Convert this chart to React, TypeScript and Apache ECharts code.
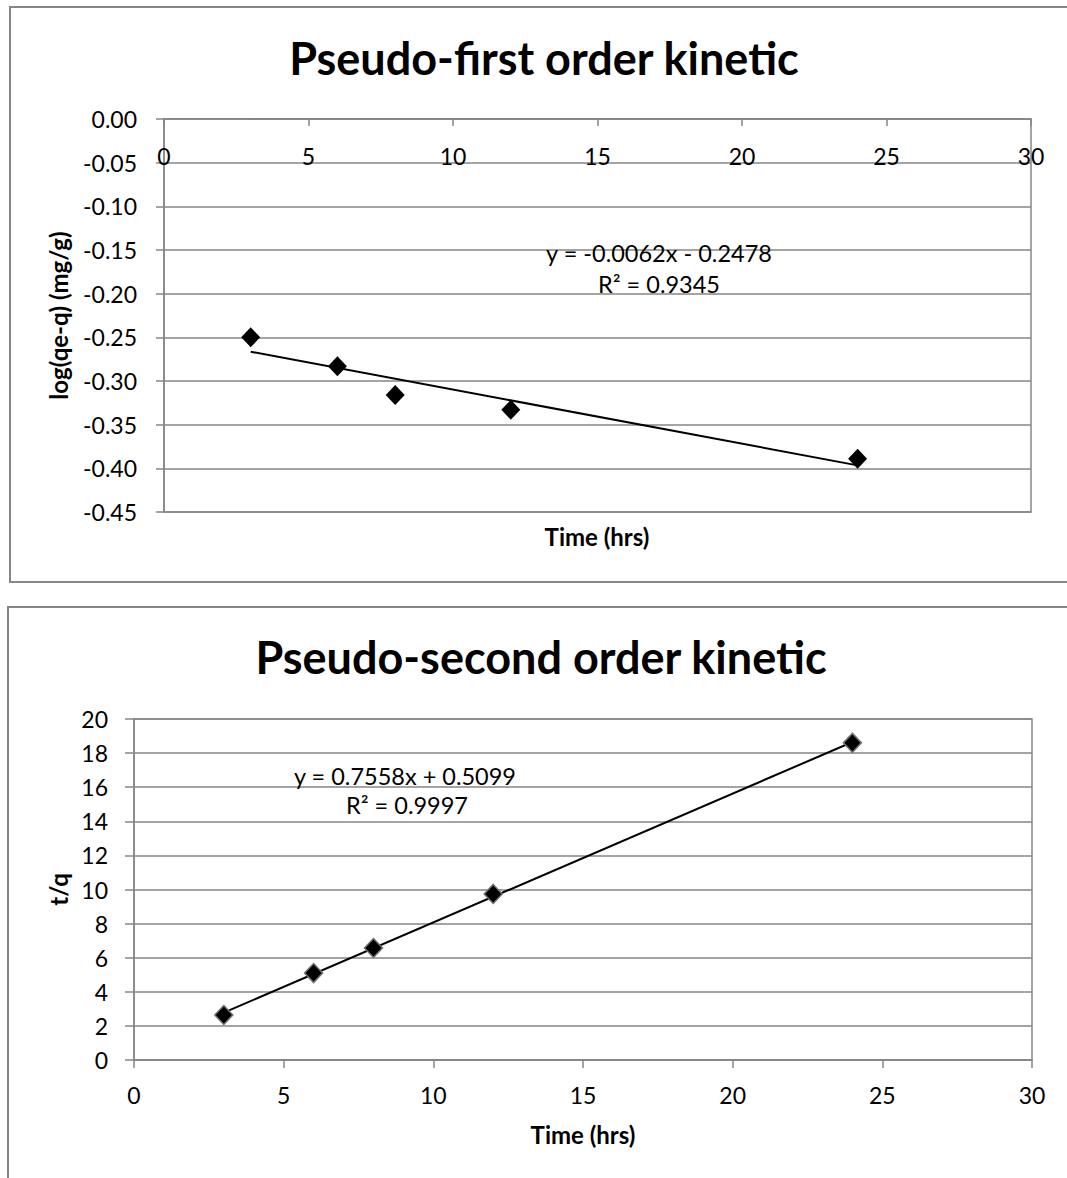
import React, { useEffect, useRef } from "react";
import * as echarts from "echarts";

// ---- data ----
const timeHrs = [3, 6, 8, 12, 24];
const pfoLogQ = [-0.25, -0.283, -0.316, -0.333, -0.389];
const psoTq = [2.64, 5.1, 6.57, 9.74, 18.6];
const pfoTrend = [-0.0062, -0.2478]; // slope, intercept
const psoTrend = [0.7558, 0.5099];
const trendRange = [3, 24];
const pfoTitle = "Pseudo-first order kinetic";
const psoTitle = "Pseudo-second order kinetic";
const pfoEq = ["y = -0.0062x - 0.2478", "R² = 0.9345"];
const psoEq = ["y = 0.7558x + 0.5099", "R² = 0.9997"];

const FONT = "Lato, 'Open Sans', sans-serif";
const GRID = "#868686";

function trend(coef: number[]) {
  return trendRange.map((x) => [x, coef[0] * x + coef[1]]);
}

export default function App() {
  const ref = useRef<HTMLDivElement>(null);
  useEffect(() => {
    document.body.style.margin = "0";
    const chart = echarts.init(ref.current!, undefined, { renderer: "svg" });
    const txt = (x: number, y: number, text: string, size: number, bold = false) => ({
      type: "text",
      x,
      y,
      style: {
        text,
        fill: "#000",
        font: `${bold ? "bold " : ""}${size}px ${FONT}`,
        textAlign: "center",
        textVerticalAlign: "middle",
      },
      z: 50,
    });
    const option: any = {
      animation: false,
      backgroundColor: "#fff",
      textStyle: { fontFamily: FONT, color: "#000" },
      grid: [
        { left: 164, top: 119, width: 867, height: 393, show: true, borderColor: GRID, borderWidth: 1.5, backgroundColor: "transparent" },
        { left: 134, top: 719, width: 898, height: 341, show: true, borderColor: GRID, borderWidth: 1.5, backgroundColor: "transparent" },
      ],
      xAxis: [
        {
          gridIndex: 0, type: "value", min: 0, max: 30, interval: 5, position: "top",
          axisLine: { show: true, onZero: false, lineStyle: { color: GRID, width: 1.5 } },
          axisTick: { show: true, inside: true, length: 7, lineStyle: { color: GRID, width: 1.5 } },
          axisLabel: { inside: true, color: "#000", fontSize: 23, margin: 25, fontFamily: FONT },
          splitLine: { show: false },
        },
        {
          gridIndex: 1, type: "value", min: 0, max: 30, interval: 5,
          name: "Time (hrs)", nameLocation: "middle", nameGap: 62,
          nameTextStyle: { fontWeight: "bold", fontSize: 24, color: "#000", fontFamily: FONT },
          axisLine: { show: true, onZero: false, lineStyle: { color: GRID, width: 1.5 } },
          axisTick: { show: true, length: 8, lineStyle: { color: GRID, width: 1.5 } },
          axisLabel: { color: "#000", fontSize: 23, margin: 23, fontFamily: FONT },
          splitLine: { show: false },
        },
      ],
      yAxis: [
        {
          gridIndex: 0, type: "value", min: -0.45, max: 0, interval: 0.05,
          name: "log(qe-q) (mg/g)", nameLocation: "middle", nameGap: 94, nameRotate: 90,
          nameTextStyle: { fontWeight: "bold", fontSize: 24, color: "#000", fontFamily: FONT },
          axisLine: { show: true, lineStyle: { color: GRID, width: 1.5 } },
          axisTick: { show: true, length: 8, lineStyle: { color: GRID, width: 1.5 } },
          axisLabel: { color: "#000", fontSize: 23, margin: 27, fontFamily: FONT, formatter: (v: number) => v.toFixed(2) },
          splitLine: { show: true, lineStyle: { color: GRID, width: 1.5 } },
        },
        {
          gridIndex: 1, type: "value", min: 0, max: 20, interval: 2,
          name: "t/q", nameLocation: "middle", nameGap: 64, nameRotate: 90,
          nameTextStyle: { fontWeight: "bold", fontSize: 24, color: "#000", fontFamily: FONT },
          axisLine: { show: true, lineStyle: { color: GRID, width: 1.5 } },
          axisTick: { show: true, length: 9, lineStyle: { color: GRID, width: 1.5 } },
          axisLabel: { color: "#000", fontSize: 23, margin: 26, fontFamily: FONT },
          splitLine: { show: true, lineStyle: { color: GRID, width: 1.5 } },
        },
      ],
      series: [
        {
          type: "line", xAxisIndex: 0, yAxisIndex: 0, data: trend(pfoTrend),
          showSymbol: false, symbol: "none", lineStyle: { color: "#000", width: 2 }, z: 3,
        },
        {
          type: "scatter", xAxisIndex: 0, yAxisIndex: 0,
          data: timeHrs.map((x, i) => [x, pfoLogQ[i]]),
          symbol: "diamond", symbolSize: [19, 20], itemStyle: { color: "#000", opacity: 1 }, z: 4,
        },
        {
          type: "line", xAxisIndex: 1, yAxisIndex: 1, data: trend(psoTrend),
          showSymbol: false, symbol: "none", lineStyle: { color: "#000", width: 2 }, z: 3,
        },
        {
          type: "scatter", xAxisIndex: 1, yAxisIndex: 1,
          data: timeHrs.map((x, i) => [x, psoTq[i]]),
          symbol: "diamond", symbolSize: [18, 19],
          itemStyle: { color: "#000", borderColor: "#707070", borderWidth: 1.5, opacity: 1 }, z: 4,
        },
      ],
      graphic: [
        { type: "rect", shape: { x: 10, y: 7, width: 1100, height: 575 }, style: { fill: "none", stroke: GRID, lineWidth: 2 }, z: 0 },
        { type: "rect", shape: { x: 8, y: 607, width: 1100, height: 620 }, style: { fill: "none", stroke: GRID, lineWidth: 2 }, z: 0 },
        txt(544, 58, pfoTitle, 45, true),
        txt(541, 657, psoTitle, 45, true),
        txt(597, 536, "Time (hrs)", 24, true),
        txt(659, 253, pfoEq[0], 23.5),
        txt(659, 284, pfoEq[1], 23.5),
        txt(405, 776, psoEq[0], 23.5),
        txt(407, 805, psoEq[1], 23.5),
      ],
    };
    chart.setOption(option);
    return () => chart.dispose();
  }, []);
  return <div ref={ref} style={{ width: 1067, height: 1178 }} />;
}
